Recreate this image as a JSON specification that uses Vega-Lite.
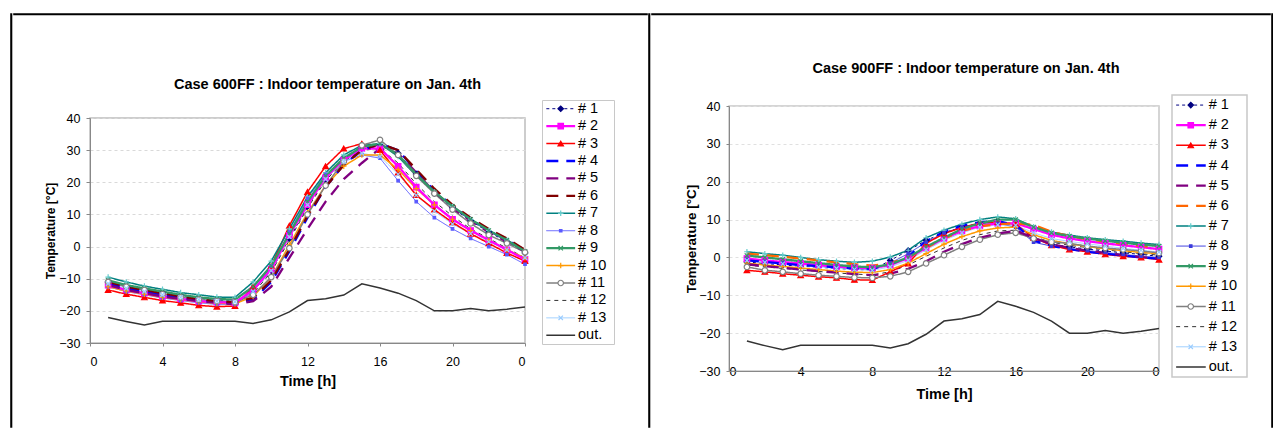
{
"$schema":"https://vega.github.io/schema/vega-lite/v6.json",
"padding":{"left":10,"top":13,"right":0,"bottom":0},
"config":{"view":{"stroke":null},"font":"Liberation Sans","axis":{"labelFont":"Liberation Sans","titleFont":"Liberation Sans","labelColor":"#000","titleColor":"#000","titleFontWeight":"bold"}},
"datasets":{
"leg":[{"s":"# 1"},{"s":"# 2"},{"s":"# 3"},{"s":"# 4"},{"s":"# 5"},{"s":"# 6"},{"s":"# 7"},{"s":"# 8"},{"s":"# 9"},{"s":"# 10"},{"s":"# 11"},{"s":"# 12"},{"s":"# 13"},{"s":"out."}],
"out":[{"h":1,"s":"out.","t":-22.1},{"h":2,"s":"out.","t":-23.3},{"h":3,"s":"out.","t":-24.4},{"h":4,"s":"out.","t":-23.2},{"h":5,"s":"out.","t":-23.2},{"h":6,"s":"out.","t":-23.2},{"h":7,"s":"out.","t":-23.2},{"h":8,"s":"out.","t":-23.2},{"h":9,"s":"out.","t":-23.9},{"h":10,"s":"out.","t":-22.8},{"h":11,"s":"out.","t":-20.3},{"h":12,"s":"out.","t":-16.8},{"h":13,"s":"out.","t":-16.2},{"h":14,"s":"out.","t":-15.1},{"h":15,"s":"out.","t":-11.6},{"h":16,"s":"out.","t":-12.9},{"h":17,"s":"out.","t":-14.5},{"h":18,"s":"out.","t":-16.8},{"h":19,"s":"out.","t":-20},{"h":20,"s":"out.","t":-20},{"h":21,"s":"out.","t":-19.3},{"h":22,"s":"out.","t":-20},{"h":23,"s":"out.","t":-19.5},{"h":24,"s":"out.","t":-18.8}],
"c600":[
{"h":1,"s":"# 1","t":-11},{"h":2,"s":"# 1","t":-12.5},{"h":3,"s":"# 1","t":-13.5},{"h":4,"s":"# 1","t":-14.5},{"h":5,"s":"# 1","t":-15.5},{"h":6,"s":"# 1","t":-16.2},{"h":7,"s":"# 1","t":-16.8},{"h":8,"s":"# 1","t":-17},{"h":9,"s":"# 1","t":-14},{"h":10,"s":"# 1","t":-7.5},{"h":11,"s":"# 1","t":2.5},{"h":12,"s":"# 1","t":12.5},{"h":13,"s":"# 1","t":21},{"h":14,"s":"# 1","t":27},{"h":15,"s":"# 1","t":30.5},{"h":16,"s":"# 1","t":31.5},{"h":17,"s":"# 1","t":29},{"h":18,"s":"# 1","t":22.5},{"h":19,"s":"# 1","t":16.5},{"h":20,"s":"# 1","t":12},{"h":21,"s":"# 1","t":8},{"h":22,"s":"# 1","t":4.5},{"h":23,"s":"# 1","t":1.5},{"h":24,"s":"# 1","t":-2},
{"h":1,"s":"# 2","t":-12},{"h":2,"s":"# 2","t":-13.5},{"h":3,"s":"# 2","t":-14.5},{"h":4,"s":"# 2","t":-15.5},{"h":5,"s":"# 2","t":-16.3},{"h":6,"s":"# 2","t":-17},{"h":7,"s":"# 2","t":-17.3},{"h":8,"s":"# 2","t":-17.5},{"h":9,"s":"# 2","t":-13.5},{"h":10,"s":"# 2","t":-7},{"h":11,"s":"# 2","t":3.5},{"h":12,"s":"# 2","t":13},{"h":13,"s":"# 2","t":21.5},{"h":14,"s":"# 2","t":27},{"h":15,"s":"# 2","t":30.5},{"h":16,"s":"# 2","t":30.5},{"h":17,"s":"# 2","t":25},{"h":18,"s":"# 2","t":18.5},{"h":19,"s":"# 2","t":13},{"h":20,"s":"# 2","t":8.5},{"h":21,"s":"# 2","t":5},{"h":22,"s":"# 2","t":2},{"h":23,"s":"# 2","t":-1},{"h":24,"s":"# 2","t":-4},
{"h":1,"s":"# 3","t":-13.5},{"h":2,"s":"# 3","t":-14.8},{"h":3,"s":"# 3","t":-15.8},{"h":4,"s":"# 3","t":-16.8},{"h":5,"s":"# 3","t":-17.5},{"h":6,"s":"# 3","t":-18.3},{"h":7,"s":"# 3","t":-18.7},{"h":8,"s":"# 3","t":-18.5},{"h":9,"s":"# 3","t":-12.5},{"h":10,"s":"# 3","t":-6},{"h":11,"s":"# 3","t":6.5},{"h":12,"s":"# 3","t":17},{"h":13,"s":"# 3","t":25},{"h":14,"s":"# 3","t":30.5},{"h":15,"s":"# 3","t":32},{"h":16,"s":"# 3","t":30},{"h":17,"s":"# 3","t":23},{"h":18,"s":"# 3","t":16},{"h":19,"s":"# 3","t":11.5},{"h":20,"s":"# 3","t":7.5},{"h":21,"s":"# 3","t":4},{"h":22,"s":"# 3","t":1},{"h":23,"s":"# 3","t":-2},{"h":24,"s":"# 3","t":-4.5},
{"h":1,"s":"# 4","t":-11.5},{"h":2,"s":"# 4","t":-13},{"h":3,"s":"# 4","t":-14},{"h":4,"s":"# 4","t":-15},{"h":5,"s":"# 4","t":-16},{"h":6,"s":"# 4","t":-16.8},{"h":7,"s":"# 4","t":-17.3},{"h":8,"s":"# 4","t":-17.8},{"h":9,"s":"# 4","t":-16.5},{"h":10,"s":"# 4","t":-11},{"h":11,"s":"# 4","t":-1.5},{"h":12,"s":"# 4","t":9},{"h":13,"s":"# 4","t":18.5},{"h":14,"s":"# 4","t":25.5},{"h":15,"s":"# 4","t":30},{"h":16,"s":"# 4","t":32},{"h":17,"s":"# 4","t":30},{"h":18,"s":"# 4","t":23.5},{"h":19,"s":"# 4","t":17.5},{"h":20,"s":"# 4","t":12.5},{"h":21,"s":"# 4","t":8.5},{"h":22,"s":"# 4","t":5},{"h":23,"s":"# 4","t":2},{"h":24,"s":"# 4","t":-1},
{"h":1,"s":"# 5","t":-12},{"h":2,"s":"# 5","t":-13.5},{"h":3,"s":"# 5","t":-14.5},{"h":4,"s":"# 5","t":-15.5},{"h":5,"s":"# 5","t":-16.3},{"h":6,"s":"# 5","t":-17},{"h":7,"s":"# 5","t":-17.5},{"h":8,"s":"# 5","t":-18},{"h":9,"s":"# 5","t":-17},{"h":10,"s":"# 5","t":-12.5},{"h":11,"s":"# 5","t":-3.5},{"h":12,"s":"# 5","t":5.5},{"h":13,"s":"# 5","t":14},{"h":14,"s":"# 5","t":21},{"h":15,"s":"# 5","t":26},{"h":16,"s":"# 5","t":30.5},{"h":17,"s":"# 5","t":29},{"h":18,"s":"# 5","t":23},{"h":19,"s":"# 5","t":17},{"h":20,"s":"# 5","t":12},{"h":21,"s":"# 5","t":8},{"h":22,"s":"# 5","t":4.5},{"h":23,"s":"# 5","t":1.5},{"h":24,"s":"# 5","t":-1.5},
{"h":1,"s":"# 6","t":-11},{"h":2,"s":"# 6","t":-12.5},{"h":3,"s":"# 6","t":-13.5},{"h":4,"s":"# 6","t":-14.5},{"h":5,"s":"# 6","t":-15.5},{"h":6,"s":"# 6","t":-16.3},{"h":7,"s":"# 6","t":-17},{"h":8,"s":"# 6","t":-17.3},{"h":9,"s":"# 6","t":-16},{"h":10,"s":"# 6","t":-10.5},{"h":11,"s":"# 6","t":-1},{"h":12,"s":"# 6","t":9.5},{"h":13,"s":"# 6","t":18.5},{"h":14,"s":"# 6","t":25.5},{"h":15,"s":"# 6","t":30},{"h":16,"s":"# 6","t":32},{"h":17,"s":"# 6","t":30},{"h":18,"s":"# 6","t":24},{"h":19,"s":"# 6","t":18},{"h":20,"s":"# 6","t":13},{"h":21,"s":"# 6","t":9},{"h":22,"s":"# 6","t":5.5},{"h":23,"s":"# 6","t":2.5},{"h":24,"s":"# 6","t":-1},
{"h":1,"s":"# 7","t":-9.5},{"h":2,"s":"# 7","t":-11},{"h":3,"s":"# 7","t":-12.3},{"h":4,"s":"# 7","t":-13.3},{"h":5,"s":"# 7","t":-14.3},{"h":6,"s":"# 7","t":-15},{"h":7,"s":"# 7","t":-15.7},{"h":8,"s":"# 7","t":-15.8},{"h":9,"s":"# 7","t":-11},{"h":10,"s":"# 7","t":-4.5},{"h":11,"s":"# 7","t":5.5},{"h":12,"s":"# 7","t":15.5},{"h":13,"s":"# 7","t":23},{"h":14,"s":"# 7","t":28.5},{"h":15,"s":"# 7","t":31.5},{"h":16,"s":"# 7","t":32},{"h":17,"s":"# 7","t":28},{"h":18,"s":"# 7","t":22},{"h":19,"s":"# 7","t":17},{"h":20,"s":"# 7","t":12.5},{"h":21,"s":"# 7","t":8.5},{"h":22,"s":"# 7","t":5},{"h":23,"s":"# 7","t":2},{"h":24,"s":"# 7","t":-1.8},
{"h":1,"s":"# 8","t":-12.5},{"h":2,"s":"# 8","t":-14},{"h":3,"s":"# 8","t":-15},{"h":4,"s":"# 8","t":-16},{"h":5,"s":"# 8","t":-16.8},{"h":6,"s":"# 8","t":-17.5},{"h":7,"s":"# 8","t":-18},{"h":8,"s":"# 8","t":-18},{"h":9,"s":"# 8","t":-14},{"h":10,"s":"# 8","t":-6},{"h":11,"s":"# 8","t":4.5},{"h":12,"s":"# 8","t":15},{"h":13,"s":"# 8","t":22.5},{"h":14,"s":"# 8","t":26.5},{"h":15,"s":"# 8","t":28.5},{"h":16,"s":"# 8","t":27.5},{"h":17,"s":"# 8","t":20.5},{"h":18,"s":"# 8","t":14},{"h":19,"s":"# 8","t":9},{"h":20,"s":"# 8","t":5.5},{"h":21,"s":"# 8","t":2.5},{"h":22,"s":"# 8","t":0},{"h":23,"s":"# 8","t":-2.5},{"h":24,"s":"# 8","t":-5.5},
{"h":1,"s":"# 9","t":-10.5},{"h":2,"s":"# 9","t":-12},{"h":3,"s":"# 9","t":-13},{"h":4,"s":"# 9","t":-14},{"h":5,"s":"# 9","t":-15},{"h":6,"s":"# 9","t":-15.8},{"h":7,"s":"# 9","t":-16.3},{"h":8,"s":"# 9","t":-16.5},{"h":9,"s":"# 9","t":-12.5},{"h":10,"s":"# 9","t":-6},{"h":11,"s":"# 9","t":4},{"h":12,"s":"# 9","t":14},{"h":13,"s":"# 9","t":22},{"h":14,"s":"# 9","t":27.5},{"h":15,"s":"# 9","t":31},{"h":16,"s":"# 9","t":32},{"h":17,"s":"# 9","t":28.5},{"h":18,"s":"# 9","t":22.5},{"h":19,"s":"# 9","t":17},{"h":20,"s":"# 9","t":12.5},{"h":21,"s":"# 9","t":8.5},{"h":22,"s":"# 9","t":5},{"h":23,"s":"# 9","t":2},{"h":24,"s":"# 9","t":-1.5},
{"h":1,"s":"# 10","t":-12.5},{"h":2,"s":"# 10","t":-13.8},{"h":3,"s":"# 10","t":-14.8},{"h":4,"s":"# 10","t":-15.8},{"h":5,"s":"# 10","t":-16.5},{"h":6,"s":"# 10","t":-17.2},{"h":7,"s":"# 10","t":-17.6},{"h":8,"s":"# 10","t":-17.8},{"h":9,"s":"# 10","t":-15.5},{"h":10,"s":"# 10","t":-9.5},{"h":11,"s":"# 10","t":0.5},{"h":12,"s":"# 10","t":10.5},{"h":13,"s":"# 10","t":19},{"h":14,"s":"# 10","t":25},{"h":15,"s":"# 10","t":28.5},{"h":16,"s":"# 10","t":28.5},{"h":17,"s":"# 10","t":24},{"h":18,"s":"# 10","t":18},{"h":19,"s":"# 10","t":13},{"h":20,"s":"# 10","t":8.5},{"h":21,"s":"# 10","t":5},{"h":22,"s":"# 10","t":2},{"h":23,"s":"# 10","t":-1},{"h":24,"s":"# 10","t":-3.5},
{"h":1,"s":"# 11","t":-11},{"h":2,"s":"# 11","t":-12.5},{"h":3,"s":"# 11","t":-13.5},{"h":4,"s":"# 11","t":-14.8},{"h":5,"s":"# 11","t":-15.8},{"h":6,"s":"# 11","t":-16.5},{"h":7,"s":"# 11","t":-17},{"h":8,"s":"# 11","t":-17.3},{"h":9,"s":"# 11","t":-15},{"h":10,"s":"# 11","t":-9.5},{"h":11,"s":"# 11","t":-0.5},{"h":12,"s":"# 11","t":10},{"h":13,"s":"# 11","t":19},{"h":14,"s":"# 11","t":26.5},{"h":15,"s":"# 11","t":31.5},{"h":16,"s":"# 11","t":33.2},{"h":17,"s":"# 11","t":28.5},{"h":18,"s":"# 11","t":22},{"h":19,"s":"# 11","t":16.5},{"h":20,"s":"# 11","t":11.5},{"h":21,"s":"# 11","t":7.2},{"h":22,"s":"# 11","t":3.6},{"h":23,"s":"# 11","t":1},{"h":24,"s":"# 11","t":-1.8},
{"h":1,"s":"# 12","t":-12},{"h":2,"s":"# 12","t":-13.5},{"h":3,"s":"# 12","t":-14.5},{"h":4,"s":"# 12","t":-15.5},{"h":5,"s":"# 12","t":-16.3},{"h":6,"s":"# 12","t":-17},{"h":7,"s":"# 12","t":-17.5},{"h":8,"s":"# 12","t":-17.5},{"h":9,"s":"# 12","t":-14.5},{"h":10,"s":"# 12","t":-8},{"h":11,"s":"# 12","t":2},{"h":12,"s":"# 12","t":12},{"h":13,"s":"# 12","t":20.5},{"h":14,"s":"# 12","t":26.5},{"h":15,"s":"# 12","t":30},{"h":16,"s":"# 12","t":30.5},{"h":17,"s":"# 12","t":26},{"h":18,"s":"# 12","t":19.5},{"h":19,"s":"# 12","t":14},{"h":20,"s":"# 12","t":9.5},{"h":21,"s":"# 12","t":5.5},{"h":22,"s":"# 12","t":2.5},{"h":23,"s":"# 12","t":-0.5},{"h":24,"s":"# 12","t":-3.5},
{"h":1,"s":"# 13","t":-11.5},{"h":2,"s":"# 13","t":-13},{"h":3,"s":"# 13","t":-14},{"h":4,"s":"# 13","t":-15},{"h":5,"s":"# 13","t":-15.8},{"h":6,"s":"# 13","t":-16.5},{"h":7,"s":"# 13","t":-17},{"h":8,"s":"# 13","t":-17.2},{"h":9,"s":"# 13","t":-14},{"h":10,"s":"# 13","t":-7.5},{"h":11,"s":"# 13","t":3},{"h":12,"s":"# 13","t":13},{"h":13,"s":"# 13","t":21},{"h":14,"s":"# 13","t":26.5},{"h":15,"s":"# 13","t":29},{"h":16,"s":"# 13","t":28},{"h":17,"s":"# 13","t":22.5},{"h":18,"s":"# 13","t":16},{"h":19,"s":"# 13","t":11},{"h":20,"s":"# 13","t":7},{"h":21,"s":"# 13","t":4},{"h":22,"s":"# 13","t":1.5},{"h":23,"s":"# 13","t":-1},{"h":24,"s":"# 13","t":-3.5}
],
"c900":[
{"h":1,"s":"# 1","t":-1.2},{"h":2,"s":"# 1","t":-1.6},{"h":3,"s":"# 1","t":-2},{"h":4,"s":"# 1","t":-2.3},{"h":5,"s":"# 1","t":-2.6},{"h":6,"s":"# 1","t":-2.9},{"h":7,"s":"# 1","t":-3.2},{"h":8,"s":"# 1","t":-3.3},{"h":9,"s":"# 1","t":-0.8},{"h":10,"s":"# 1","t":1.8},{"h":11,"s":"# 1","t":4.5},{"h":12,"s":"# 1","t":6.5},{"h":13,"s":"# 1","t":8},{"h":14,"s":"# 1","t":9},{"h":15,"s":"# 1","t":9.5},{"h":16,"s":"# 1","t":8.5},{"h":17,"s":"# 1","t":5},{"h":18,"s":"# 1","t":3.5},{"h":19,"s":"# 1","t":2.8},{"h":20,"s":"# 1","t":2.2},{"h":21,"s":"# 1","t":1.7},{"h":22,"s":"# 1","t":1.2},{"h":23,"s":"# 1","t":0.8},{"h":24,"s":"# 1","t":0.3},
{"h":1,"s":"# 2","t":-0.3},{"h":2,"s":"# 2","t":-0.8},{"h":3,"s":"# 2","t":-1.2},{"h":4,"s":"# 2","t":-1.6},{"h":5,"s":"# 2","t":-2},{"h":6,"s":"# 2","t":-2.4},{"h":7,"s":"# 2","t":-2.7},{"h":8,"s":"# 2","t":-2.8},{"h":9,"s":"# 2","t":-2},{"h":10,"s":"# 2","t":-0.2},{"h":11,"s":"# 2","t":2.5},{"h":12,"s":"# 2","t":5},{"h":13,"s":"# 2","t":7},{"h":14,"s":"# 2","t":8.3},{"h":15,"s":"# 2","t":9},{"h":16,"s":"# 2","t":9},{"h":17,"s":"# 2","t":7.5},{"h":18,"s":"# 2","t":6},{"h":19,"s":"# 2","t":5},{"h":20,"s":"# 2","t":4.3},{"h":21,"s":"# 2","t":3.7},{"h":22,"s":"# 2","t":3.2},{"h":23,"s":"# 2","t":2.7},{"h":24,"s":"# 2","t":2.2},
{"h":1,"s":"# 3","t":-3.4},{"h":2,"s":"# 3","t":-3.8},{"h":3,"s":"# 3","t":-4.3},{"h":4,"s":"# 3","t":-4.7},{"h":5,"s":"# 3","t":-5.1},{"h":6,"s":"# 3","t":-5.4},{"h":7,"s":"# 3","t":-5.9},{"h":8,"s":"# 3","t":-6},{"h":9,"s":"# 3","t":-3.8},{"h":10,"s":"# 3","t":-1.6},{"h":11,"s":"# 3","t":3.7},{"h":12,"s":"# 3","t":6.3},{"h":13,"s":"# 3","t":7.9},{"h":14,"s":"# 3","t":9.1},{"h":15,"s":"# 3","t":9.4},{"h":16,"s":"# 3","t":8.8},{"h":17,"s":"# 3","t":5.2},{"h":18,"s":"# 3","t":3.2},{"h":19,"s":"# 3","t":2.1},{"h":20,"s":"# 3","t":1.5},{"h":21,"s":"# 3","t":0.8},{"h":22,"s":"# 3","t":0.3},{"h":23,"s":"# 3","t":0},{"h":24,"s":"# 3","t":-0.6},
{"h":1,"s":"# 4","t":-0.8},{"h":2,"s":"# 4","t":-1.2},{"h":3,"s":"# 4","t":-1.6},{"h":4,"s":"# 4","t":-2},{"h":5,"s":"# 4","t":-2.3},{"h":6,"s":"# 4","t":-2.6},{"h":7,"s":"# 4","t":-2.9},{"h":8,"s":"# 4","t":-3},{"h":9,"s":"# 4","t":-1.8},{"h":10,"s":"# 4","t":0.2},{"h":11,"s":"# 4","t":4.3},{"h":12,"s":"# 4","t":6.8},{"h":13,"s":"# 4","t":8.4},{"h":14,"s":"# 4","t":9.3},{"h":15,"s":"# 4","t":9.6},{"h":16,"s":"# 4","t":8.6},{"h":17,"s":"# 4","t":4.5},{"h":18,"s":"# 4","t":3},{"h":19,"s":"# 4","t":2.2},{"h":20,"s":"# 4","t":1.5},{"h":21,"s":"# 4","t":1},{"h":22,"s":"# 4","t":0.5},{"h":23,"s":"# 4","t":0},{"h":24,"s":"# 4","t":-0.3},
{"h":1,"s":"# 5","t":-1.8},{"h":2,"s":"# 5","t":-2.3},{"h":3,"s":"# 5","t":-2.7},{"h":4,"s":"# 5","t":-3.2},{"h":5,"s":"# 5","t":-3.6},{"h":6,"s":"# 5","t":-4},{"h":7,"s":"# 5","t":-4.4},{"h":8,"s":"# 5","t":-4.7},{"h":9,"s":"# 5","t":-4.3},{"h":10,"s":"# 5","t":-3},{"h":11,"s":"# 5","t":-1},{"h":12,"s":"# 5","t":1.5},{"h":13,"s":"# 5","t":3.5},{"h":14,"s":"# 5","t":5.2},{"h":15,"s":"# 5","t":6.3},{"h":16,"s":"# 5","t":7},{"h":17,"s":"# 5","t":5.2},{"h":18,"s":"# 5","t":3.5},{"h":19,"s":"# 5","t":2.5},{"h":20,"s":"# 5","t":1.8},{"h":21,"s":"# 5","t":1.2},{"h":22,"s":"# 5","t":0.6},{"h":23,"s":"# 5","t":0.1},{"h":24,"s":"# 5","t":-0.3},
{"h":1,"s":"# 6","t":1},{"h":2,"s":"# 6","t":0.6},{"h":3,"s":"# 6","t":0.2},{"h":4,"s":"# 6","t":-0.3},{"h":5,"s":"# 6","t":-0.8},{"h":6,"s":"# 6","t":-1.3},{"h":7,"s":"# 6","t":-1.8},{"h":8,"s":"# 6","t":-2.2},{"h":9,"s":"# 6","t":-1.5},{"h":10,"s":"# 6","t":0},{"h":11,"s":"# 6","t":2.5},{"h":12,"s":"# 6","t":5},{"h":13,"s":"# 6","t":7},{"h":14,"s":"# 6","t":8.2},{"h":15,"s":"# 6","t":8.8},{"h":16,"s":"# 6","t":9},{"h":17,"s":"# 6","t":8.6},{"h":18,"s":"# 6","t":6.8},{"h":19,"s":"# 6","t":5.6},{"h":20,"s":"# 6","t":4.8},{"h":21,"s":"# 6","t":4.2},{"h":22,"s":"# 6","t":3.6},{"h":23,"s":"# 6","t":3},{"h":24,"s":"# 6","t":2.6},
{"h":1,"s":"# 7","t":1.5},{"h":2,"s":"# 7","t":1},{"h":3,"s":"# 7","t":0.6},{"h":4,"s":"# 7","t":0},{"h":5,"s":"# 7","t":-0.6},{"h":6,"s":"# 7","t":-1},{"h":7,"s":"# 7","t":-1.3},{"h":8,"s":"# 7","t":-1},{"h":9,"s":"# 7","t":0.1},{"h":10,"s":"# 7","t":1.9},{"h":11,"s":"# 7","t":5.2},{"h":12,"s":"# 7","t":7.2},{"h":13,"s":"# 7","t":8.8},{"h":14,"s":"# 7","t":10},{"h":15,"s":"# 7","t":10.7},{"h":16,"s":"# 7","t":10.2},{"h":17,"s":"# 7","t":8.1},{"h":18,"s":"# 7","t":6.7},{"h":19,"s":"# 7","t":5.9},{"h":20,"s":"# 7","t":5.2},{"h":21,"s":"# 7","t":4.7},{"h":22,"s":"# 7","t":4.3},{"h":23,"s":"# 7","t":3.8},{"h":24,"s":"# 7","t":3.4},
{"h":1,"s":"# 8","t":-0.5},{"h":2,"s":"# 8","t":-1},{"h":3,"s":"# 8","t":-1.4},{"h":4,"s":"# 8","t":-1.8},{"h":5,"s":"# 8","t":-2.2},{"h":6,"s":"# 8","t":-2.6},{"h":7,"s":"# 8","t":-3},{"h":8,"s":"# 8","t":-3.2},{"h":9,"s":"# 8","t":-1.5},{"h":10,"s":"# 8","t":1},{"h":11,"s":"# 8","t":4},{"h":12,"s":"# 8","t":6.5},{"h":13,"s":"# 8","t":8},{"h":14,"s":"# 8","t":8.8},{"h":15,"s":"# 8","t":9},{"h":16,"s":"# 8","t":8},{"h":17,"s":"# 8","t":4},{"h":18,"s":"# 8","t":3},{"h":19,"s":"# 8","t":2.3},{"h":20,"s":"# 8","t":1.8},{"h":21,"s":"# 8","t":1.3},{"h":22,"s":"# 8","t":0.8},{"h":23,"s":"# 8","t":0.3},{"h":24,"s":"# 8","t":0},
{"h":1,"s":"# 9","t":0.5},{"h":2,"s":"# 9","t":0},{"h":3,"s":"# 9","t":-0.5},{"h":4,"s":"# 9","t":-1},{"h":5,"s":"# 9","t":-1.5},{"h":6,"s":"# 9","t":-2},{"h":7,"s":"# 9","t":-2.4},{"h":8,"s":"# 9","t":-2.6},{"h":9,"s":"# 9","t":-1.8},{"h":10,"s":"# 9","t":0},{"h":11,"s":"# 9","t":2.8},{"h":12,"s":"# 9","t":5.2},{"h":13,"s":"# 9","t":7.5},{"h":14,"s":"# 9","t":9},{"h":15,"s":"# 9","t":10},{"h":16,"s":"# 9","t":10},{"h":17,"s":"# 9","t":8},{"h":18,"s":"# 9","t":6.5},{"h":19,"s":"# 9","t":5.6},{"h":20,"s":"# 9","t":5},{"h":21,"s":"# 9","t":4.4},{"h":22,"s":"# 9","t":3.9},{"h":23,"s":"# 9","t":3.4},{"h":24,"s":"# 9","t":3},
{"h":1,"s":"# 10","t":-1.5},{"h":2,"s":"# 10","t":-2},{"h":3,"s":"# 10","t":-2.4},{"h":4,"s":"# 10","t":-2.8},{"h":5,"s":"# 10","t":-3.2},{"h":6,"s":"# 10","t":-3.6},{"h":7,"s":"# 10","t":-3.9},{"h":8,"s":"# 10","t":-4},{"h":9,"s":"# 10","t":-3.2},{"h":10,"s":"# 10","t":-1.5},{"h":11,"s":"# 10","t":1},{"h":12,"s":"# 10","t":3.5},{"h":13,"s":"# 10","t":5.5},{"h":14,"s":"# 10","t":7},{"h":15,"s":"# 10","t":7.8},{"h":16,"s":"# 10","t":8},{"h":17,"s":"# 10","t":6},{"h":18,"s":"# 10","t":4.5},{"h":19,"s":"# 10","t":3.6},{"h":20,"s":"# 10","t":2.9},{"h":21,"s":"# 10","t":2.3},{"h":22,"s":"# 10","t":1.8},{"h":23,"s":"# 10","t":1.3},{"h":24,"s":"# 10","t":1},
{"h":1,"s":"# 11","t":-2.5},{"h":2,"s":"# 11","t":-3.4},{"h":3,"s":"# 11","t":-3.8},{"h":4,"s":"# 11","t":-4.3},{"h":5,"s":"# 11","t":-4.7},{"h":6,"s":"# 11","t":-5},{"h":7,"s":"# 11","t":-5.3},{"h":8,"s":"# 11","t":-5.4},{"h":9,"s":"# 11","t":-5},{"h":10,"s":"# 11","t":-3.8},{"h":11,"s":"# 11","t":-1.6},{"h":12,"s":"# 11","t":0.6},{"h":13,"s":"# 11","t":2.8},{"h":14,"s":"# 11","t":4.7},{"h":15,"s":"# 11","t":6},{"h":16,"s":"# 11","t":6.5},{"h":17,"s":"# 11","t":5},{"h":18,"s":"# 11","t":4.1},{"h":19,"s":"# 11","t":3.7},{"h":20,"s":"# 11","t":3},{"h":21,"s":"# 11","t":2.5},{"h":22,"s":"# 11","t":2.1},{"h":23,"s":"# 11","t":1.7},{"h":24,"s":"# 11","t":1.2},
{"h":1,"s":"# 12","t":-2},{"h":2,"s":"# 12","t":-2.5},{"h":3,"s":"# 12","t":-2.9},{"h":4,"s":"# 12","t":-3.3},{"h":5,"s":"# 12","t":-3.7},{"h":6,"s":"# 12","t":-4.1},{"h":7,"s":"# 12","t":-4.4},{"h":8,"s":"# 12","t":-4.6},{"h":9,"s":"# 12","t":-3.8},{"h":10,"s":"# 12","t":-2},{"h":11,"s":"# 12","t":0.3},{"h":12,"s":"# 12","t":2.5},{"h":13,"s":"# 12","t":4.5},{"h":14,"s":"# 12","t":6},{"h":15,"s":"# 12","t":7},{"h":16,"s":"# 12","t":7.2},{"h":17,"s":"# 12","t":5.5},{"h":18,"s":"# 12","t":4},{"h":19,"s":"# 12","t":3.2},{"h":20,"s":"# 12","t":2.6},{"h":21,"s":"# 12","t":2},{"h":22,"s":"# 12","t":1.5},{"h":23,"s":"# 12","t":1},{"h":24,"s":"# 12","t":0.6},
{"h":1,"s":"# 13","t":-0.8},{"h":2,"s":"# 13","t":-1.3},{"h":3,"s":"# 13","t":-1.7},{"h":4,"s":"# 13","t":-2.1},{"h":5,"s":"# 13","t":-2.5},{"h":6,"s":"# 13","t":-2.9},{"h":7,"s":"# 13","t":-3.2},{"h":8,"s":"# 13","t":-3.4},{"h":9,"s":"# 13","t":-2.5},{"h":10,"s":"# 13","t":-0.8},{"h":11,"s":"# 13","t":2},{"h":12,"s":"# 13","t":4.5},{"h":13,"s":"# 13","t":6.5},{"h":14,"s":"# 13","t":8},{"h":15,"s":"# 13","t":8.6},{"h":16,"s":"# 13","t":8.5},{"h":17,"s":"# 13","t":6.5},{"h":18,"s":"# 13","t":5},{"h":19,"s":"# 13","t":4.2},{"h":20,"s":"# 13","t":3.6},{"h":21,"s":"# 13","t":3},{"h":22,"s":"# 13","t":2.4},{"h":23,"s":"# 13","t":1.9},{"h":24,"s":"# 13","t":1.4}
]
},
"spacing":0,
"resolve":{"scale":{"color":"independent","fill":"independent","stroke":"independent","shape":"independent","strokeDash":"independent","x":"independent","y":"independent"}},
"hconcat":[
{"width":0.5,"height":413,"data":{"values":[]},"mark":{"type":"point","opacity":0},"encoding":{},"view":{"stroke":"#000","strokeWidth":1.6}},
{"spacing":0,"vconcat":[
 {"width":633,"height":0.5,"data":{"values":[]},"mark":{"type":"point","opacity":0},"encoding":{},"view":{"stroke":"#000","strokeWidth":1.6}},
 {"spacing":10,"hconcat":[
  {"width":20,"height":1,"data":{"values":[]},"mark":{"type":"point","opacity":0},"encoding":{}},
  {"spacing":0,"vconcat":[
   {"width":1,"height":59,"data":{"values":[]},"mark":{"type":"point","opacity":0},"encoding":{}},
   {"width":435,"height":225,
    "view":{"stroke":"#bdbdbd","strokeWidth":1.5},
    "title":{"text":"Case 600FF : Indoor temperature on Jan. 4th","fontSize":14.5,"fontWeight":"bold","font":"Liberation Sans","color":"#000","offset":20,"dx":20,"frame":"group","anchor":"middle"},
    "encoding":{
     "x":{"field":"h","type":"quantitative","title":"Time [h]","scale":{"domain":[0,24],"nice":false},"axis":{"values":[0,4,8,12,16,20,24],"labelExpr":"'' + (datum.value % 24)","grid":false,"tickSize":3,"labelPadding":9,"labelFontSize":12.5,"titleFontSize":14.5,"titlePadding":7,"domainColor":"#888","tickColor":"#888"}},
     "y":{"field":"t","type":"quantitative","title":"Temperature [°C]","scale":{"domain":[-30,40],"nice":false},"axis":{"values":[-30,-20,-10,0,10,20,30,40],"tickSize":4,"labelPadding":6,"labelFontSize":12.5,"titleFontSize":12,"titlePadding":1,"gridColor":"#d9d9d9","gridDash":[3,3],"domainColor":"#888","tickColor":"#888"}}
    },
    "layer":[
     {"data":{"name":"out"},"mark":{"type":"line","strokeWidth":1.5},"encoding":{"color":{"field":"s","type":"nominal","scale":{"domain":["# 1","# 2","# 3","# 4","# 5","# 6","# 7","# 8","# 9","# 10","# 11","# 12","# 13","out."],"range":["#000080","#ff00ff","#ff0000","#0000ff","#800080","#800000","#008080","#5a5aff","#339966","#ff9900","#808080","#333333","#99ccff","#333333"]},"legend":null}}},
     {"data":{"name":"c600"},"transform":[{"filter":{"field":"s","oneOf":["# 1","# 8","# 12","# 13"]}}],"mark":{"type":"line","strokeWidth":1},"encoding":{"color":{"field":"s","type":"nominal","scale":{"domain":["# 1","# 2","# 3","# 4","# 5","# 6","# 7","# 8","# 9","# 10","# 11","# 12","# 13","out."],"range":["#000080","#ff00ff","#ff0000","#0000ff","#800080","#800000","#008080","#5a5aff","#339966","#ff9900","#808080","#333333","#99ccff","#333333"]},"legend":null},"strokeDash":{"field":"s","type":"nominal","scale":{"domain":["# 1","# 2","# 3","# 4","# 5","# 6","# 7","# 8","# 9","# 10","# 11","# 12","# 13","out."],"range":[[3,3],[1,0],[1,0],[12,8],[12,8],[12,8],[1,0],[1,0],[1,0],[1,0],[1,0],[4,4],[1,0],[1,0]]},"legend":null}}},
     {"data":{"name":"c600"},"transform":[{"filter":{"field":"s","oneOf":["# 3","# 7","# 10","# 11"]}}],"mark":{"type":"line","strokeWidth":1.5},"encoding":{"color":{"field":"s","type":"nominal","scale":{"domain":["# 1","# 2","# 3","# 4","# 5","# 6","# 7","# 8","# 9","# 10","# 11","# 12","# 13","out."],"range":["#000080","#ff00ff","#ff0000","#0000ff","#800080","#800000","#008080","#5a5aff","#339966","#ff9900","#808080","#333333","#99ccff","#333333"]},"legend":null},"strokeDash":{"field":"s","type":"nominal","scale":{"domain":["# 1","# 2","# 3","# 4","# 5","# 6","# 7","# 8","# 9","# 10","# 11","# 12","# 13","out."],"range":[[3,3],[1,0],[1,0],[12,8],[12,8],[12,8],[1,0],[1,0],[1,0],[1,0],[1,0],[4,4],[1,0],[1,0]]},"legend":null}}},
     {"data":{"name":"c600"},"transform":[{"filter":{"field":"s","oneOf":["# 2","# 4","# 5","# 6","# 9"]}}],"mark":{"type":"line","strokeWidth":2.3},"encoding":{"color":{"field":"s","type":"nominal","scale":{"domain":["# 1","# 2","# 3","# 4","# 5","# 6","# 7","# 8","# 9","# 10","# 11","# 12","# 13","out."],"range":["#000080","#ff00ff","#ff0000","#0000ff","#800080","#800000","#008080","#5a5aff","#339966","#ff9900","#808080","#333333","#99ccff","#333333"]},"legend":null},"strokeDash":{"field":"s","type":"nominal","scale":{"domain":["# 1","# 2","# 3","# 4","# 5","# 6","# 7","# 8","# 9","# 10","# 11","# 12","# 13","out."],"range":[[3,3],[1,0],[1,0],[12,8],[12,8],[12,8],[1,0],[1,0],[1,0],[1,0],[1,0],[4,4],[1,0],[1,0]]},"legend":null}}},
     {"data":{"name":"c600"},"transform":[{"filter":{"field":"s","oneOf":["# 1","# 2","# 3","# 7","# 8","# 9","# 10","# 11","# 13"]}}],"mark":{"type":"point","filled":true,"size":30,"strokeWidth":1.2,"opacity":1},"encoding":{"shape":{"field":"s","type":"nominal","scale":{"domain":["# 1","# 2","# 3","# 7","# 8","# 9","# 10","# 11","# 13"],"range":["diamond","square","triangle-up","M-1,0H1M0,-1V1","M-0.45,-0.45H0.45V0.45H-0.45Z","M-0.8,-0.8L0.8,0.8M-0.8,0.8L0.8,-0.8","M-1,0H1M0,-1V1","circle","M-0.8,-0.8L0.8,0.8M-0.8,0.8L0.8,-0.8"]},"legend":null},"fill":{"field":"s","type":"nominal","scale":{"domain":["# 1","# 2","# 3","# 7","# 8","# 9","# 10","# 11","# 13"],"range":["#000080","#ff00ff","#ff0000","#66cccc","#5a5aff","#339966","#ff9900","#ffffff","#99ccff"]},"legend":null},"stroke":{"field":"s","type":"nominal","scale":{"domain":["# 1","# 2","# 3","# 7","# 8","# 9","# 10","# 11","# 13"],"range":["#000080","#ff00ff","#ff0000","#66cccc","#5a5aff","#339966","#ff9900","#808080","#99ccff"]},"legend":null}}}
    ]}
  ]},
  {"spacing":0,"vconcat":[
   {"width":1,"height":83,"data":{"values":[]},"mark":{"type":"point","opacity":0},"encoding":{}},
   {"width":72,"height":244,"view":{"stroke":"#c8c8c8","strokeWidth":1},"data":{"name":"leg"},
    "encoding":{"y":{"field":"s","type":"nominal","scale":{"domain":["# 1","# 2","# 3","# 4","# 5","# 6","# 7","# 8","# 9","# 10","# 11","# 12","# 13","out."]},"axis":null}},
    "layer":[
     {"transform":[{"filter":{"field":"s","oneOf":["# 1","# 8","# 12","# 13"]}}],"mark":{"type":"rule","strokeWidth":1},"encoding":{"x":{"datum":0.06,"type":"quantitative","scale":{"domain":[0,1]},"axis":null},"x2":{"datum":0.46},"color":{"field":"s","type":"nominal","scale":{"domain":["# 1","# 2","# 3","# 4","# 5","# 6","# 7","# 8","# 9","# 10","# 11","# 12","# 13","out."],"range":["#000080","#ff00ff","#ff0000","#0000ff","#800080","#800000","#008080","#5a5aff","#339966","#ff9900","#808080","#333333","#99ccff","#333333"]},"legend":null},"strokeDash":{"field":"s","type":"nominal","scale":{"domain":["# 1","# 2","# 3","# 4","# 5","# 6","# 7","# 8","# 9","# 10","# 11","# 12","# 13","out."],"range":[[3,3],[1,0],[1,0],[12,8],[12,8],[12,8],[1,0],[1,0],[1,0],[1,0],[1,0],[4,4],[1,0],[1,0]]},"legend":null}}},
     {"transform":[{"filter":{"field":"s","oneOf":["# 3","# 7","# 10","# 11","out."]}}],"mark":{"type":"rule","strokeWidth":1.5},"encoding":{"x":{"datum":0.06,"type":"quantitative","scale":{"domain":[0,1]},"axis":null},"x2":{"datum":0.46},"color":{"field":"s","type":"nominal","scale":{"domain":["# 1","# 2","# 3","# 4","# 5","# 6","# 7","# 8","# 9","# 10","# 11","# 12","# 13","out."],"range":["#000080","#ff00ff","#ff0000","#0000ff","#800080","#800000","#008080","#5a5aff","#339966","#ff9900","#808080","#333333","#99ccff","#333333"]},"legend":null},"strokeDash":{"field":"s","type":"nominal","scale":{"domain":["# 1","# 2","# 3","# 4","# 5","# 6","# 7","# 8","# 9","# 10","# 11","# 12","# 13","out."],"range":[[3,3],[1,0],[1,0],[12,8],[12,8],[12,8],[1,0],[1,0],[1,0],[1,0],[1,0],[4,4],[1,0],[1,0]]},"legend":null}}},
     {"transform":[{"filter":{"field":"s","oneOf":["# 2","# 4","# 5","# 6","# 9"]}}],"mark":{"type":"rule","strokeWidth":2.3},"encoding":{"x":{"datum":0.06,"type":"quantitative","scale":{"domain":[0,1]},"axis":null},"x2":{"datum":0.46},"color":{"field":"s","type":"nominal","scale":{"domain":["# 1","# 2","# 3","# 4","# 5","# 6","# 7","# 8","# 9","# 10","# 11","# 12","# 13","out."],"range":["#000080","#ff00ff","#ff0000","#0000ff","#800080","#800000","#008080","#5a5aff","#339966","#ff9900","#808080","#333333","#99ccff","#333333"]},"legend":null},"strokeDash":{"field":"s","type":"nominal","scale":{"domain":["# 1","# 2","# 3","# 4","# 5","# 6","# 7","# 8","# 9","# 10","# 11","# 12","# 13","out."],"range":[[3,3],[1,0],[1,0],[12,8],[12,8],[12,8],[1,0],[1,0],[1,0],[1,0],[1,0],[4,4],[1,0],[1,0]]},"legend":null}}},
     {"transform":[{"filter":{"field":"s","oneOf":["# 1","# 2","# 3","# 7","# 8","# 9","# 10","# 11","# 13"]}}],"mark":{"type":"point","filled":true,"size":30,"strokeWidth":1.2,"opacity":1},"encoding":{"x":{"datum":0.26,"type":"quantitative","scale":{"domain":[0,1]},"axis":null},"shape":{"field":"s","type":"nominal","scale":{"domain":["# 1","# 2","# 3","# 7","# 8","# 9","# 10","# 11","# 13"],"range":["diamond","square","triangle-up","M-1,0H1M0,-1V1","M-0.45,-0.45H0.45V0.45H-0.45Z","M-0.8,-0.8L0.8,0.8M-0.8,0.8L0.8,-0.8","M-1,0H1M0,-1V1","circle","M-0.8,-0.8L0.8,0.8M-0.8,0.8L0.8,-0.8"]},"legend":null},"fill":{"field":"s","type":"nominal","scale":{"domain":["# 1","# 2","# 3","# 7","# 8","# 9","# 10","# 11","# 13"],"range":["#000080","#ff00ff","#ff0000","#66cccc","#5a5aff","#339966","#ff9900","#ffffff","#99ccff"]},"legend":null},"stroke":{"field":"s","type":"nominal","scale":{"domain":["# 1","# 2","# 3","# 7","# 8","# 9","# 10","# 11","# 13"],"range":["#000080","#ff00ff","#ff0000","#66cccc","#5a5aff","#339966","#ff9900","#808080","#99ccff"]},"legend":null}}},
     {"mark":{"type":"text","align":"left","baseline":"middle","fontSize":14.5,"font":"Liberation Sans","color":"#000"},"encoding":{"x":{"datum":0.5,"type":"quantitative","scale":{"domain":[0,1]},"axis":null},"text":{"field":"s"}}}
    ]}
  ]}
 ]}
]},
{"width":0.5,"height":413,"data":{"values":[]},"mark":{"type":"point","opacity":0},"encoding":{},"view":{"stroke":"#000","strokeWidth":1.6}},
{"spacing":0,"vconcat":[
 {"width":618,"height":0.5,"data":{"values":[]},"mark":{"type":"point","opacity":0},"encoding":{},"view":{"stroke":"#000","strokeWidth":1.6}},
 {"spacing":6,"hconcat":[
  {"width":26,"height":1,"data":{"values":[]},"mark":{"type":"point","opacity":0},"encoding":{}},
  {"spacing":0,"vconcat":[
   {"width":1,"height":43,"data":{"values":[]},"mark":{"type":"point","opacity":0},"encoding":{}},
   {"width":430,"height":265,
    "view":{"stroke":"#c8c8c8","strokeWidth":1.5},
    "title":{"text":"Case 900FF : Indoor temperature on Jan. 4th","fontSize":14.5,"fontWeight":"bold","font":"Liberation Sans","color":"#000","offset":24,"dx":22,"frame":"group","anchor":"middle"},
    "encoding":{
     "x":{"field":"h","type":"quantitative","title":"Time [h]","scale":{"domain":[0,24],"nice":false},"axis":{"values":[0,4,8,12,16,20,24],"labelExpr":"'' + (datum.value % 24)","grid":false,"ticks":false,"tickSize":0,"labelPadding":0,"labelBaseline":"middle","labelFontSize":12.5,"titleFontSize":14.5,"titlePadding":10,"domainColor":"#888"}},
     "y":{"field":"t","type":"quantitative","title":"Temperature [°C]","scale":{"domain":[-30,40],"nice":false},"axis":{"values":[-30,-20,-10,0,10,20,30,40],"tickSize":3,"labelPadding":6,"labelFontSize":12.5,"titleFontSize":13.5,"titlePadding":0,"gridColor":"#e0e0e0","gridDash":[3,3],"domainColor":"#888","tickColor":"#888"}}
    },
    "layer":[
     {"data":{"name":"out"},"mark":{"type":"line","strokeWidth":1.5},"encoding":{"color":{"field":"s","type":"nominal","scale":{"domain":["# 1","# 2","# 3","# 4","# 5","# 6","# 7","# 8","# 9","# 10","# 11","# 12","# 13","out."],"range":["#000080","#ff00ff","#ff0000","#0000ff","#800080","#ff6600","#008080","#3c3cdc","#339966","#ff9900","#808080","#333333","#99ccff","#333333"]},"legend":null}}},
     {"data":{"name":"c900"},"transform":[{"filter":{"field":"s","oneOf":["# 1","# 8","# 12","# 13"]}}],"mark":{"type":"line","strokeWidth":1},"encoding":{"color":{"field":"s","type":"nominal","scale":{"domain":["# 1","# 2","# 3","# 4","# 5","# 6","# 7","# 8","# 9","# 10","# 11","# 12","# 13","out."],"range":["#000080","#ff00ff","#ff0000","#0000ff","#800080","#ff6600","#008080","#3c3cdc","#339966","#ff9900","#808080","#333333","#99ccff","#333333"]},"legend":null},"strokeDash":{"field":"s","type":"nominal","scale":{"domain":["# 1","# 2","# 3","# 4","# 5","# 6","# 7","# 8","# 9","# 10","# 11","# 12","# 13","out."],"range":[[3,3],[1,0],[1,0],[12,8],[12,8],[12,8],[1,0],[1,0],[1,0],[1,0],[1,0],[4,4],[1,0],[1,0]]},"legend":null}}},
     {"data":{"name":"c900"},"transform":[{"filter":{"field":"s","oneOf":["# 3","# 7","# 10","# 11"]}}],"mark":{"type":"line","strokeWidth":1.5},"encoding":{"color":{"field":"s","type":"nominal","scale":{"domain":["# 1","# 2","# 3","# 4","# 5","# 6","# 7","# 8","# 9","# 10","# 11","# 12","# 13","out."],"range":["#000080","#ff00ff","#ff0000","#0000ff","#800080","#ff6600","#008080","#3c3cdc","#339966","#ff9900","#808080","#333333","#99ccff","#333333"]},"legend":null},"strokeDash":{"field":"s","type":"nominal","scale":{"domain":["# 1","# 2","# 3","# 4","# 5","# 6","# 7","# 8","# 9","# 10","# 11","# 12","# 13","out."],"range":[[3,3],[1,0],[1,0],[12,8],[12,8],[12,8],[1,0],[1,0],[1,0],[1,0],[1,0],[4,4],[1,0],[1,0]]},"legend":null}}},
     {"data":{"name":"c900"},"transform":[{"filter":{"field":"s","oneOf":["# 2","# 4","# 5","# 6","# 9"]}}],"mark":{"type":"line","strokeWidth":2.3},"encoding":{"color":{"field":"s","type":"nominal","scale":{"domain":["# 1","# 2","# 3","# 4","# 5","# 6","# 7","# 8","# 9","# 10","# 11","# 12","# 13","out."],"range":["#000080","#ff00ff","#ff0000","#0000ff","#800080","#ff6600","#008080","#3c3cdc","#339966","#ff9900","#808080","#333333","#99ccff","#333333"]},"legend":null},"strokeDash":{"field":"s","type":"nominal","scale":{"domain":["# 1","# 2","# 3","# 4","# 5","# 6","# 7","# 8","# 9","# 10","# 11","# 12","# 13","out."],"range":[[3,3],[1,0],[1,0],[12,8],[12,8],[12,8],[1,0],[1,0],[1,0],[1,0],[1,0],[4,4],[1,0],[1,0]]},"legend":null}}},
     {"data":{"name":"c900"},"transform":[{"filter":{"field":"s","oneOf":["# 1","# 2","# 3","# 7","# 8","# 9","# 10","# 11","# 13"]}}],"mark":{"type":"point","filled":true,"size":30,"strokeWidth":1.2,"opacity":1},"encoding":{"shape":{"field":"s","type":"nominal","scale":{"domain":["# 1","# 2","# 3","# 7","# 8","# 9","# 10","# 11","# 13"],"range":["diamond","square","triangle-up","M-1,0H1M0,-1V1","M-0.45,-0.45H0.45V0.45H-0.45Z","M-0.8,-0.8L0.8,0.8M-0.8,0.8L0.8,-0.8","M-1,0H1M0,-1V1","circle","M-0.8,-0.8L0.8,0.8M-0.8,0.8L0.8,-0.8"]},"legend":null},"fill":{"field":"s","type":"nominal","scale":{"domain":["# 1","# 2","# 3","# 7","# 8","# 9","# 10","# 11","# 13"],"range":["#000080","#ff00ff","#ff0000","#66cccc","#3c3cdc","#339966","#ff9900","#ffffff","#99ccff"]},"legend":null},"stroke":{"field":"s","type":"nominal","scale":{"domain":["# 1","# 2","# 3","# 7","# 8","# 9","# 10","# 11","# 13"],"range":["#000080","#ff00ff","#ff0000","#66cccc","#3c3cdc","#339966","#ff9900","#808080","#99ccff"]},"legend":null}}}
    ]}
  ]},
  {"spacing":0,"vconcat":[
   {"width":1,"height":78,"data":{"values":[]},"mark":{"type":"point","opacity":0},"encoding":{}},
   {"width":75,"height":282,"view":{"stroke":"#c8c8c8","strokeWidth":1.5},"data":{"name":"leg"},
    "encoding":{"y":{"field":"s","type":"nominal","scale":{"domain":["# 1","# 2","# 3","# 4","# 5","# 6","# 7","# 8","# 9","# 10","# 11","# 12","# 13","out."]},"axis":null}},
    "layer":[
     {"transform":[{"filter":{"field":"s","oneOf":["# 1","# 8","# 12","# 13"]}}],"mark":{"type":"rule","strokeWidth":1},"encoding":{"x":{"datum":0.055,"type":"quantitative","scale":{"domain":[0,1]},"axis":null},"x2":{"datum":0.45},"color":{"field":"s","type":"nominal","scale":{"domain":["# 1","# 2","# 3","# 4","# 5","# 6","# 7","# 8","# 9","# 10","# 11","# 12","# 13","out."],"range":["#000080","#ff00ff","#ff0000","#0000ff","#800080","#ff6600","#008080","#3c3cdc","#339966","#ff9900","#808080","#333333","#99ccff","#333333"]},"legend":null},"strokeDash":{"field":"s","type":"nominal","scale":{"domain":["# 1","# 2","# 3","# 4","# 5","# 6","# 7","# 8","# 9","# 10","# 11","# 12","# 13","out."],"range":[[3,3],[1,0],[1,0],[12,8],[12,8],[12,8],[1,0],[1,0],[1,0],[1,0],[1,0],[4,4],[1,0],[1,0]]},"legend":null}}},
     {"transform":[{"filter":{"field":"s","oneOf":["# 3","# 7","# 10","# 11","out."]}}],"mark":{"type":"rule","strokeWidth":1.5},"encoding":{"x":{"datum":0.055,"type":"quantitative","scale":{"domain":[0,1]},"axis":null},"x2":{"datum":0.45},"color":{"field":"s","type":"nominal","scale":{"domain":["# 1","# 2","# 3","# 4","# 5","# 6","# 7","# 8","# 9","# 10","# 11","# 12","# 13","out."],"range":["#000080","#ff00ff","#ff0000","#0000ff","#800080","#ff6600","#008080","#3c3cdc","#339966","#ff9900","#808080","#333333","#99ccff","#333333"]},"legend":null},"strokeDash":{"field":"s","type":"nominal","scale":{"domain":["# 1","# 2","# 3","# 4","# 5","# 6","# 7","# 8","# 9","# 10","# 11","# 12","# 13","out."],"range":[[3,3],[1,0],[1,0],[12,8],[12,8],[12,8],[1,0],[1,0],[1,0],[1,0],[1,0],[4,4],[1,0],[1,0]]},"legend":null}}},
     {"transform":[{"filter":{"field":"s","oneOf":["# 2","# 4","# 5","# 6","# 9"]}}],"mark":{"type":"rule","strokeWidth":2.3},"encoding":{"x":{"datum":0.055,"type":"quantitative","scale":{"domain":[0,1]},"axis":null},"x2":{"datum":0.45},"color":{"field":"s","type":"nominal","scale":{"domain":["# 1","# 2","# 3","# 4","# 5","# 6","# 7","# 8","# 9","# 10","# 11","# 12","# 13","out."],"range":["#000080","#ff00ff","#ff0000","#0000ff","#800080","#ff6600","#008080","#3c3cdc","#339966","#ff9900","#808080","#333333","#99ccff","#333333"]},"legend":null},"strokeDash":{"field":"s","type":"nominal","scale":{"domain":["# 1","# 2","# 3","# 4","# 5","# 6","# 7","# 8","# 9","# 10","# 11","# 12","# 13","out."],"range":[[3,3],[1,0],[1,0],[12,8],[12,8],[12,8],[1,0],[1,0],[1,0],[1,0],[1,0],[4,4],[1,0],[1,0]]},"legend":null}}},
     {"transform":[{"filter":{"field":"s","oneOf":["# 1","# 2","# 3","# 7","# 8","# 9","# 10","# 11","# 13"]}}],"mark":{"type":"point","filled":true,"size":30,"strokeWidth":1.2,"opacity":1},"encoding":{"x":{"datum":0.25,"type":"quantitative","scale":{"domain":[0,1]},"axis":null},"shape":{"field":"s","type":"nominal","scale":{"domain":["# 1","# 2","# 3","# 7","# 8","# 9","# 10","# 11","# 13"],"range":["diamond","square","triangle-up","M-1,0H1M0,-1V1","M-0.45,-0.45H0.45V0.45H-0.45Z","M-0.8,-0.8L0.8,0.8M-0.8,0.8L0.8,-0.8","M-1,0H1M0,-1V1","circle","M-0.8,-0.8L0.8,0.8M-0.8,0.8L0.8,-0.8"]},"legend":null},"fill":{"field":"s","type":"nominal","scale":{"domain":["# 1","# 2","# 3","# 7","# 8","# 9","# 10","# 11","# 13"],"range":["#000080","#ff00ff","#ff0000","#66cccc","#3c3cdc","#339966","#ff9900","#ffffff","#99ccff"]},"legend":null},"stroke":{"field":"s","type":"nominal","scale":{"domain":["# 1","# 2","# 3","# 7","# 8","# 9","# 10","# 11","# 13"],"range":["#000080","#ff00ff","#ff0000","#66cccc","#3c3cdc","#339966","#ff9900","#808080","#99ccff"]},"legend":null}}},
     {"mark":{"type":"text","align":"left","baseline":"middle","fontSize":14.5,"font":"Liberation Sans","color":"#000"},"encoding":{"x":{"datum":0.49,"type":"quantitative","scale":{"domain":[0,1]},"axis":null},"text":{"field":"s"}}}
    ]}
  ]}
 ]}
]},
{"width":0.5,"height":413,"data":{"values":[]},"mark":{"type":"point","opacity":0},"encoding":{},"view":{"stroke":"#000","strokeWidth":1.6}}
]
}
